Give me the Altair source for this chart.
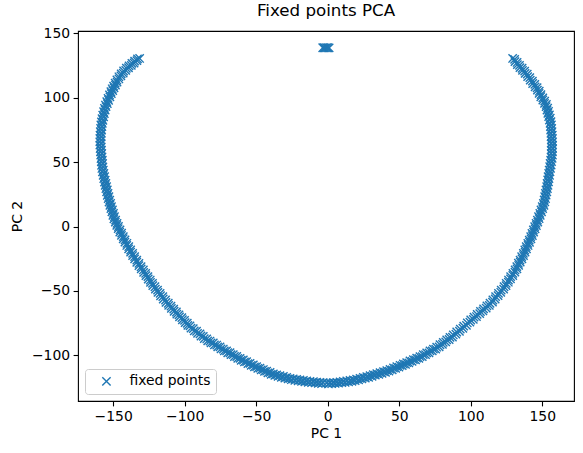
import altair as alt
import pandas as pd

# Left arm of the curve, inner strand (from the upper end down to the bottom)
left_x = [-131.5, -133.4, -135.4, -137.3, -139.3, -141.2, -143.0,
          -144.6, -146.0, -147.3, -148.4, -149.4, -150.3,
          -151.3, -152.3, -153.2, -154.1, -155.0,
          -155.6, -156.2, -156.7, -157.2, -157.6,
          -157.9, -158.1, -158.3, -158.4, -158.5,
          -158.5, -158.4, -158.2, -158.0, -157.8,
          -157.6, -157.4, -157.2, -156.9,
          -156.5, -156.0, -155.6, -155.1, -154.6,
          -154.1, -153.6, -153.0, -152.4, -151.8,
          -151.2, -150.5, -149.8, -149.1, -148.3,
          -147.3, -146.3, -145.2, -144.1, -142.9,
          -141.7, -140.4, -139.1, -137.8, -136.4,
          -135.0, -133.5, -132.0, -130.5, -128.9,
          -127.3, -125.7, -124.1, -122.5, -120.8,
          -119.0, -117.2, -115.3, -113.4, -111.5,
          -109.6, -107.7, -105.8, -104.0,
          -102.0, -100.1, -98.2, -96.3,
          -94.0, -91.7, -89.3, -87.0, -84.6,
          -82.3, -80.0, -77.6, -75.3, -73.0,
          -70.7, -68.3, -66.0, -63.6, -61.3,
          -59.0, -56.7, -54.3, -52.0, -49.7,
          -47.4, -45.0, -42.7, -40.3, -38.0,
          -35.7, -33.4, -31.0, -28.7, -26.4,
          -24.1, -21.7, -19.4, -17.0, -14.7,
          -12.4, -10.0, -7.7, -5.4, -3.1]
left_y = [130.3, 128.6, 126.8, 125.0, 123.1, 121.1, 119.0,
          116.8, 114.4, 112.0, 109.6, 107.5, 105.4,
          103.0, 100.5, 97.9, 95.3, 92.9,
          90.3, 87.6, 85.0, 82.4, 80.0,
          77.4, 74.8, 72.2, 69.6, 67.0,
          64.4, 61.8, 59.2, 56.6, 54.0,
          51.4, 48.9, 46.3, 43.8,
          41.2, 38.6, 36.0, 33.4, 30.9,
          28.3, 25.7, 23.1, 20.5, 18.0,
          15.4, 12.8, 10.2, 7.6, 5.0,
          2.5, 0.0, -2.6, -5.2, -7.9,
          -10.4, -13.0, -15.6, -18.2, -20.8,
          -23.4, -26.0, -28.6, -31.2, -33.7,
          -36.3, -38.9, -41.5, -44.1, -46.7,
          -49.3, -51.9, -54.4, -57.0, -59.5,
          -61.8, -64.1, -66.3, -68.5,
          -70.7, -72.8, -75.0, -77.1,
          -79.2, -81.2, -83.2, -85.2, -87.2,
          -88.8, -90.3, -91.9, -93.4, -95.0,
          -96.5, -97.9, -99.4, -100.8, -102.2,
          -103.5, -104.8, -106.1, -107.4, -108.7,
          -109.8, -110.9, -112.1, -113.2, -114.3,
          -115.0, -115.7, -116.3, -117.0, -117.7,
          -118.1, -118.5, -119.0, -119.4, -119.8,
          -120.1, -120.3, -120.6, -120.9, -121.1]

# Left arm, outer strand
left2_x = [-133.0, -135.0, -136.9, -138.9, -140.8, -142.7,
           -144.4, -146.0, -147.4, -148.6, -149.7, -150.7,
           -151.6, -152.6, -153.6, -154.5, -155.4,
           -156.1, -156.7, -157.3, -157.8, -158.2, -158.6, -158.8, -159.0,
           -159.2, -159.3, -159.3, -159.3, -159.1, -158.9, -158.7, -158.5,
           -158.3, -158.1, -157.9, -157.5,
           -157.0, -156.6, -156.1, -155.6, -155.1, -154.6, -154.1, -153.5,
           -152.9, -152.3, -151.6, -150.9, -150.2, -149.5,
           -148.5, -147.5, -146.5, -145.4, -144.2,
           -143.0, -141.8, -140.5, -139.2, -137.8, -136.4, -135.0, -133.5,
           -132.0, -130.4,
           -128.7, -127.1, -125.5, -123.9, -122.3, -120.5, -118.7, -116.9,
           -115.0, -113.1, -111.2, -109.3, -107.4, -105.5, -103.6, -101.6,
           -99.7, -97.8,
           -95.6, -93.3, -91.0, -88.6, -86.3,
           -83.9, -81.6, -79.2, -76.9, -74.6, -72.3, -69.9, -67.6, -65.2, -62.9,
           -60.5, -58.2, -55.8, -53.5, -51.2, -48.9, -46.5, -44.2, -41.8, -39.5,
           -37.0, -34.7, -32.4, -30.0, -27.7, -25.4, -23.0, -20.7, -18.3, -16.0,
           -13.6, -11.3, -8.9, -6.6, -4.3]
left2_y = [130.0, 128.3, 126.5, 124.6, 122.7, 120.6,
           118.4, 116.1, 113.6, 111.2, 108.9, 106.8,
           104.5, 102.0, 99.4, 96.8, 94.2,
           91.6, 89.0, 86.3, 83.7, 81.2, 78.7, 76.1, 73.5,
           70.9, 68.3, 65.7, 63.1, 60.5, 57.9, 55.3, 52.7,
           50.1, 47.5, 45.0, 42.4,
           39.7, 37.1, 34.5, 31.9, 29.4, 26.8, 24.2, 21.6,
           19.0, 16.5, 13.9, 11.3, 8.7, 6.0,
           3.4, 0.9, -1.7, -4.3, -6.9,
           -9.5, -12.1, -14.7, -17.3, -19.9, -22.5, -25.1, -27.7,
           -30.3, -32.9,
           -35.5, -38.1, -40.7, -43.3, -45.9, -48.5, -51.1, -53.7,
           -56.2, -58.8, -61.2, -63.5, -65.7, -67.9, -70.1, -72.3,
           -74.5, -76.6,
           -78.8, -80.9, -82.9, -84.9, -86.9,
           -88.7, -90.3, -91.8, -93.4, -94.9, -96.5, -97.9, -99.4, -100.8, -102.2,
           -103.7, -105.0, -106.3, -107.6, -108.9, -110.0, -111.2, -112.3, -113.5, -114.6,
           -115.5, -116.2, -116.9, -117.5, -118.2, -118.8, -119.2, -119.6, -120.0, -120.5,
           -120.8, -121.1, -121.3, -121.6, -121.8]

# Right arm, inner strand (from the bottom up to the upper end)
right_x = [-0.8, 1.5, 3.9, 6.3,
           8.6, 10.9, 13.3, 15.6, 17.9,
           20.2, 22.6, 24.9, 27.3, 29.6,
           31.9, 34.3, 36.6, 39.0, 41.3,
           43.6, 46.0, 48.3, 50.6, 52.9,
           55.2, 57.5, 59.9, 62.2, 64.5,
           66.8, 69.2, 71.5, 73.9, 76.2,
           78.5, 80.8, 83.2, 85.5, 87.8,
           90.2, 92.7, 95.1, 97.6, 100.0,
           102.3, 104.5, 106.8, 109.0, 111.3, 113.5,
           115.5, 117.4, 119.4, 121.3, 123.3,
           124.8, 126.4, 127.9, 129.5, 131.0,
           132.2, 133.3, 134.5, 135.6, 136.8,
           137.8, 138.8, 139.9, 140.9, 141.9,
           142.8, 143.8, 144.7, 145.7, 146.6,
           147.4, 148.3, 149.1, 150.0, 150.8,
           151.3, 151.7, 152.2, 152.6, 153.1,
           153.4, 153.8, 154.1, 154.5, 154.8,
           155.2, 155.5, 155.9, 156.2,
           156.3, 156.3, 156.4, 156.4, 156.4,
           156.2, 156.1, 155.9, 155.7, 155.5,
           155.0, 154.5, 153.9, 153.3, 152.7,
           151.6, 150.4, 149.0, 147.8, 146.6,
           145.0, 143.3, 141.6, 139.8, 138.0,
           136.2, 134.4, 132.6, 130.9, 129.3]
right_y = [-121.3, -121.2, -121.0, -120.8,
           -120.5, -120.1, -119.8, -119.4, -119.0,
           -118.4, -117.7, -117.0, -116.4, -115.7,
           -114.9, -114.1, -113.4, -112.6, -111.8,
           -110.8, -109.7, -108.7, -107.6, -106.6,
           -105.5, -104.3, -103.2, -102.0, -100.9,
           -99.4, -98.0, -96.5, -95.1, -93.6,
           -91.7, -89.8, -87.9, -86.0, -84.1,
           -81.8, -79.5, -77.2, -74.8, -72.5,
           -70.3, -68.1, -65.9, -63.8, -61.6, -59.5,
           -57.0, -54.4, -51.8, -49.3, -46.7,
           -44.1, -41.5, -38.9, -36.3, -33.7,
           -31.1, -28.5, -26.0, -23.4, -20.8,
           -18.2, -15.6, -13.1, -10.5, -7.9,
           -5.3, -2.7, -0.1, 2.4, 5.0,
           7.6, 10.2, 12.8, 15.4, 18.0,
           20.6, 23.2, 25.7, 28.3, 30.9,
           33.5, 36.1, 38.6, 41.2, 43.8,
           46.4, 49.0, 51.5, 54.0,
           56.6, 59.2, 61.8, 64.4, 67.0,
           69.6, 72.2, 74.8, 77.4, 80.0,
           82.6, 85.2, 87.7, 90.3, 92.9,
           95.5, 98.1, 100.6, 103.2, 105.8,
           108.3, 110.9, 113.5, 116.2, 118.8,
           121.0, 123.2, 125.5, 127.8, 130.3]

# Right arm, outer strand
right2_x = [0.5, 2.8, 5.2, 7.6, 9.9, 12.2, 14.6, 16.9, 19.2, 21.6,
            23.9, 26.3, 28.6, 31.0, 33.3, 35.7, 38.0, 40.4,
            42.8, 45.1, 47.5, 49.8, 52.1, 54.4, 56.7, 59.0, 61.4, 63.7,
            66.1, 68.4, 70.8, 73.1, 75.5,
            77.9, 80.2, 82.5, 84.9, 87.2,
            89.6, 92.1, 94.5, 97.0, 99.4, 101.8, 104.0, 106.3, 108.5, 110.8, 113.0,
            115.2, 117.1, 119.1, 121.0, 123.0, 124.7, 126.3, 127.8, 129.4, 130.9,
            132.3, 133.5, 134.6, 135.8, 136.9, 138.0, 139.0, 140.1, 141.1, 142.1,
            143.1, 144.0, 145.0, 145.9, 146.9,
            147.8, 148.6, 149.5, 150.3, 151.2, 151.8, 152.3, 152.7, 153.2, 153.6,
            154.0, 154.4, 154.7, 155.1, 155.4,
            155.8, 156.2, 156.5, 156.9, 157.1, 157.1, 157.2, 157.2, 157.2,
            157.1, 157.0, 156.8, 156.6, 156.4, 156.1, 155.6, 155.0, 154.4, 153.8,
            152.9, 151.7, 150.4, 149.1, 147.9,
            146.4, 144.8, 143.1, 141.3, 139.5, 137.7, 135.9, 134.1, 132.4, 130.7]
right2_y = [-122.1, -121.9, -121.7, -121.5, -121.1, -120.8, -120.4, -120.0, -119.5, -118.9,
            -118.2, -117.5, -116.9, -116.1, -115.3, -114.6, -113.8, -113.0,
            -112.1, -111.1, -110.0, -109.0, -107.9, -106.9, -105.7, -104.6, -103.4, -102.3,
            -100.9, -99.4, -98.0, -96.5, -95.1,
            -93.3, -91.4, -89.5, -87.6, -85.7,
            -83.5, -81.2, -78.9, -76.6, -74.2, -72.0, -69.8, -67.6, -65.4, -63.3, -61.1,
            -58.7, -56.2, -53.6, -51.0, -48.5, -45.9, -43.2, -40.6, -38.0, -35.4,
            -32.8, -30.2, -27.6, -25.1, -22.5, -19.9, -17.3, -14.7, -12.2, -9.6,
            -7.0, -4.4, -1.8, 0.8, 3.4,
            6.1, 8.7, 11.3, 13.9, 16.5, 19.1, 21.7, 24.3, 26.8, 29.4,
            32.0, 34.6, 37.2, 39.7, 42.3,
            45.1, 47.7, 50.3, 52.8, 55.3, 57.9, 60.5, 63.1, 65.7,
            68.3, 70.9, 73.5, 76.1, 78.7, 81.4, 84.0, 86.6, 89.2, 91.8,
            94.6, 97.2, 99.8, 102.3, 104.9,
            107.6, 110.2, 112.8, 115.4, 118.1, 120.5, 122.7, 124.9, 127.2, 129.6]

# Small cluster at the top centre
top_x = [-3.5, -2.6, -1.7, -0.8, 0.1, 1.0]
top_y = [138.6, 138.6, 138.5, 138.6, 138.6, 138.5]

series_name = "fixed points"

xs = left_x + left2_x + right_x + right2_x + top_x
ys = left_y + left2_y + right_y + right2_y + top_y
df = pd.DataFrame({"pc1": xs, "pc2": ys, "series": [series_name] * len(xs)})

XMARK = "M-1,-1L1,1M1,-1L-1,1"
BLUE = "#1f77b4"
FONT = "DejaVu Sans"

chart = alt.Chart(df).mark_point(
    shape=XMARK, filled=False, size=69, strokeWidth=1.4, opacity=1
).encode(
    x=alt.X("pc1:Q", title="PC 1",
            scale=alt.Scale(domain=[-174.6, 172.2], nice=False, zero=False),
            axis=alt.Axis(values=[-150, -100, -50, 0, 50, 100, 150])),
    y=alt.Y("pc2:Q", title="PC 2",
            scale=alt.Scale(domain=[-135.3, 151.6], nice=False, zero=False),
            axis=alt.Axis(values=[-100, -50, 0, 50, 100, 150])),
    color=alt.Color("series:N",
                    scale=alt.Scale(domain=[series_name], range=[BLUE]),
                    legend=alt.Legend(title=None, orient="bottom-left")),
).properties(
    width=496, height=370,
    title=alt.TitleParams("Fixed points PCA", font=FONT, fontSize=16.7,
                          fontWeight="normal", color="black", offset=6),
    autosize=alt.AutoSizeParams(type="none"),
    padding={"left": 78, "top": 31, "right": 9, "bottom": 52},
).configure_view(
    stroke="black", strokeWidth=1.1
).configure_axis(
    grid=False, domain=False,
    ticks=True, tickColor="black", tickSize=4.9, tickWidth=1.1,
    labelFont=FONT, labelFontSize=13.9, labelColor="black", labelPadding=3.5,
    titleFont=FONT, titleFontSize=13.9, titleColor="black", titleFontWeight="normal",
).configure_axisX(
    titlePadding=3
).configure_axisY(
    titlePadding=7
).configure_legend(
    offset=7, padding=5.5, fillColor="white", strokeColor="#cccccc",
    cornerRadius=3, labelFont=FONT, labelFontSize=13.9, labelColor="black",
    symbolType=XMARK, symbolSize=69, symbolStrokeWidth=1.4,
    symbolOffset=9, labelOffset=16,
)

chart.save("out.html", embed_options={"renderer": "svg", "actions": False})
